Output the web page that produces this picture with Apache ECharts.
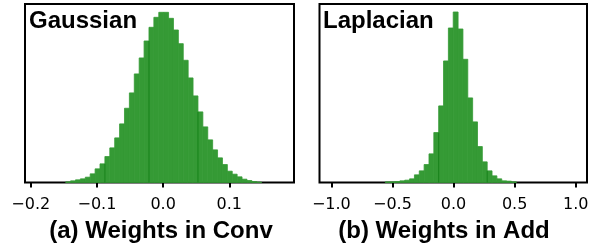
<!DOCTYPE html>
<html lang="en">
<head>
    <meta charset="UTF-8">
    <title>Weight distributions</title>
    <script src="https://cdn.jsdelivr.net/npm/echarts@6/dist/echarts.min.js"></script>
    <style>
        html, body { margin: 0; padding: 0; background: #fff; }
        #main { width: 598px; height: 249px; }
    </style>
</head>
<body>
<div id="main"></div>
<script>
    // histogram bins (heights are relative counts)
    var gaussStart = -0.1472;
    var gaussWidth = 0.0074;
    var gaussCounts = [2, 5, 8, 11, 16, 26, 41, 56, 78, 104, 134, 176, 223, 269, 326, 374, 425, 466, 496, 511,
        511, 493, 458, 417, 367, 314, 260, 212, 167, 128, 98, 74, 54, 34, 25, 17, 10, 6, 3, 1];
    var gaussEdges = [8, 17, 27];   // darker seams at these bin edges

    var laplaceStart = -0.558;
    var laplaceWidth = 0.0397;
    var laplaceCounts = [2, 2, 3, 5, 7, 11, 23, 35, 54, 86, 150, 230, 365, 464, 512, 461, 370, 254, 182, 108,
        62, 35, 20, 11, 5, 4, 2];
    var laplaceEdges = [11, 21];

    var gaussTicks = [-0.2, -0.1, 0.0, 0.1];
    var laplaceTicks = [-1.0, -0.5, 0.0, 0.5, 1.0];

    var panelTitles = ['Gaussian', 'Laplacian'];
    var captions = ['(a) Weights in Conv', '(b) Weights in Add'];

    var BAR = '#359a35';
    var BOLD = 'bold 24px "Liberation Sans", Arial, sans-serif';

    function binData(start, width, counts) {
        return counts.map(function (c, i) {
            return [start + i * width, start + (i + 1) * width, c];
        });
    }
    function seamData(start, width, counts, edges) {
        return edges.map(function (k) {
            return [start + k * width, Math.min(counts[k - 1], counts[k])];
        });
    }

    function renderBar(params, api) {
        var p0 = api.coord([api.value(0), api.value(2)]);
        var p1 = api.coord([api.value(1), 0]);
        return {
            type: 'rect',
            shape: { x: p0[0], y: p0[1], width: p1[0] - p0[0], height: p1[1] - p0[1] },
            style: { fill: BAR, stroke: BAR, lineWidth: 0.8 }
        };
    }
    function renderSeam(params, api) {
        var top = api.coord([api.value(0), api.value(1)]);
        var bot = api.coord([api.value(0), 0]);
        return {
            type: 'line',
            shape: { x1: top[0], y1: top[1], x2: bot[0], y2: bot[1] },
            style: { stroke: '#17821a', lineWidth: 1 }
        };
    }

    function fmt(v) {
        return v.toFixed(1).replace('-', '\u2212');
    }

    function xAxisFor(idx, min, max, ticks) {
        return {
            type: 'value', gridIndex: idx, min: min, max: max,
            axisLine: { show: false },
            splitLine: { show: false },
            axisTick: { show: true, length: 5, customValues: ticks, lineStyle: { color: '#000', width: 2 } },
            axisLabel: {
                show: true,
                customValues: ticks,
                formatter: fmt,
                margin: 14,
                color: '#000',
                fontSize: 16,
                fontFamily: 'DejaVu Sans'
            }
        };
    }
    function yAxisFor(idx) {
        return { type: 'value', gridIndex: idx, min: 0, max: 536, show: false };
    }

    var myChart = echarts.init(document.getElementById('main'), null, { renderer: 'canvas' });
    myChart.setOption({
        animation: false,
        textStyle: { fontFamily: 'DejaVu Sans', fontSize: 16, color: '#000' },
        grid: [
            { left: 25, width: 269, top: 4, height: 178.5, show: true, borderColor: '#000', borderWidth: 2, backgroundColor: 'transparent' },
            { left: 319.5, width: 267.5, top: 4, height: 178.5, show: true, borderColor: '#000', borderWidth: 2, backgroundColor: 'transparent' }
        ],
        xAxis: [
            xAxisFor(0, -0.2087, 0.1977, gaussTicks),
            xAxisFor(1, -1.0966, 1.0925, laplaceTicks)
        ],
        yAxis: [yAxisFor(0), yAxisFor(1)],
        series: [
            { type: 'custom', xAxisIndex: 0, yAxisIndex: 0, renderItem: renderBar, encode: { x: [0, 1], y: 2 },
              data: binData(gaussStart, gaussWidth, gaussCounts) },
            { type: 'custom', xAxisIndex: 0, yAxisIndex: 0, renderItem: renderSeam, encode: { x: 0, y: 1 }, z: 3,
              data: seamData(gaussStart, gaussWidth, gaussCounts, gaussEdges) },
            { type: 'custom', xAxisIndex: 1, yAxisIndex: 1, renderItem: renderBar, encode: { x: [0, 1], y: 2 },
              data: binData(laplaceStart, laplaceWidth, laplaceCounts) },
            { type: 'custom', xAxisIndex: 1, yAxisIndex: 1, renderItem: renderSeam, encode: { x: 0, y: 1 }, z: 3,
              data: seamData(laplaceStart, laplaceWidth, laplaceCounts, laplaceEdges) }
        ],
        graphic: [
            { type: 'text', left: 29, top: 9, z: 10, style: { text: panelTitles[0], font: BOLD, fill: '#000' } },
            { type: 'text', left: 323, top: 9, z: 10, style: { text: panelTitles[1], font: BOLD, fill: '#000' } },
            { type: 'text', x: 161, y: 231.5, z: 10, style: { text: captions[0], align: 'center', verticalAlign: 'middle', font: BOLD, fill: '#000' } },
            { type: 'text', x: 444, y: 231.5, z: 10, style: { text: captions[1], align: 'center', verticalAlign: 'middle', font: BOLD, fill: '#000' } }
        ]
    });
</script>
</body>
</html>
